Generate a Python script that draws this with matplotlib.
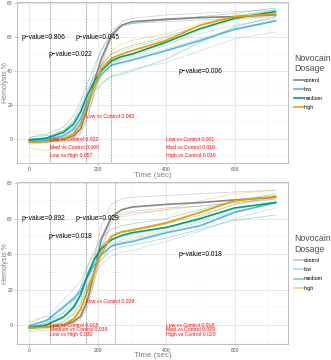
import numpy as np
import matplotlib
matplotlib.use("Agg")
import matplotlib.pyplot as plt
from matplotlib.ticker import MultipleLocator

plt.rcParams['font.family'] = ['Liberation Sans', 'DejaVu Sans']

time = [0, 50, 100, 130, 150, 170, 190, 210, 240, 270, 300, 400, 500, 600, 720]

groups = ['control', 'low', 'medium', 'high']
colors = {'control': '#858585', 'low': '#56B4E9', 'medium': '#009E73', 'high': '#E69F00'}

# ---- top panel ----
top_mean = {
    'control': [-1, -1, 0, 2, 6, 18, 34, 47, 61, 67, 69, 70.5, 71.5, 72, 73],
    'low':     [-1, -0.5, 2, 6, 12, 22, 31, 38, 43.5, 45, 46.5, 52, 58, 64.5, 69.5],
    'medium':  [-0.5, 0.5, 4, 9, 16, 26, 34, 40, 46, 48.5, 50, 57, 65, 71, 75],
    'high':    [-2, -1.5, 0, 3, 9, 20, 31, 41, 47.5, 50, 52, 58, 67, 72, 73.5],
}
top_indiv = {
    'control': [[-2, -1.5, -1, 1, 4, 13, 28, 44, 62, 69, 71, 73, 74, 75, 76],
                [0, 0, 1, 4, 10, 24, 40, 52, 64, 67, 68, 69, 70, 71, 72],
                [-1, -2, -1, 0, 3, 12, 27, 42, 60, 67, 69, 70, 71, 72, 74]],
    'low':     [[1, 2, 5, 10, 17, 28, 37, 43, 47, 49, 50, 56, 62, 67, 71],
                [-3, -2, 0, 3, 8, 16, 25, 32, 37, 39, 41, 45, 52, 59, 63],
                [0, 0, 3, 8, 14, 24, 33, 40, 45, 47, 48, 53, 59, 65, 70]],
    'medium':  [[1, 3, 7, 14, 22, 33, 43, 52, 62, 66, 68, 70, 72, 74, 77],
                [-2, -1, 2, 6, 12, 20, 28, 33, 37, 38, 40, 47, 57, 66, 72],
                [0, 1, 5, 11, 19, 29, 37, 43, 50, 53, 55, 60, 67, 72, 76]],
    'high':    [[4, 2, 1, 4, 9, 19, 31, 42, 52, 56, 58, 62, 68, 72, 74],
                [-5, -7, -3, 1, 7, 18, 28, 37, 44, 47, 49, 55, 64, 70, 73],
                [-2, -1, 1, 5, 12, 23, 34, 44, 50, 52, 54, 59, 67, 73, 75]],
}
top_vlines = [60, 165, 240]
top_pvals = [(40, 60, 'p\u2212value=0.806'), (200, 60, 'p\u2212value=0.045'),
             (120, 50, 'p\u2212value=0.022'), (500, 40, 'p\u2212value=0.006')]
top_red = [(165, 13, 'Low vs Control 0.060'),
           (60, 0, 'Low vs Control 0.022'), (60, -4.8, 'Med vs Control 0.060'),
           (60, -9.5, 'Low vs High 0.057'),
           (400, 0, 'Low vs Control 0.001'), (400, -4.8, 'Med vs Control 0.016'),
           (400, -9.5, 'High vs Control 0.030')]

# ---- bottom panel ----
bot_mean = {
    'control': [-1.5, -1, 0, 2, 5, 14, 30, 48, 61, 65, 66.5, 68, 69, 70.5, 72],
    'low':     [-0.5, 2.5, 10, 15, 19, 27, 34, 39.5, 44.5, 46, 47, 52, 56, 63.5, 69],
    'medium':  [-1.5, 0, 4.5, 10, 17, 28, 37, 43, 48, 50.5, 52, 55, 60, 66, 69],
    'high':    [-1.7, -1.2, 0, 3.5, 9, 19, 30, 40, 50, 52.5, 53.5, 57.5, 63.5, 70, 72.5],
}
bot_indiv = {
    'control': [[-2, -1, 0, 3, 8, 20, 38, 56, 68, 71, 72, 73, 74, 75, 76],
                [-1, 0, 1, 2, 4, 12, 26, 44, 60, 63, 64, 66, 67, 69, 71],
                [0, -1, -1, 1, 3, 10, 24, 42, 58, 62, 63, 65, 67, 69, 72]],
    'low':     [[1, 5, 14, 20, 25, 33, 40, 45, 49, 50, 51, 55, 59, 65, 70],
                [-2, 1, 7, 11, 15, 22, 29, 34, 39, 41, 42, 47, 53, 60, 66],
                [-1, 3, 11, 16, 21, 29, 36, 41, 46, 47, 48, 53, 58, 64, 69]],
    'medium':  [[0, 2, 7, 14, 21, 33, 42, 49, 54, 56, 57, 60, 65, 70, 74],
                [-3, -2, 2, 6, 12, 22, 31, 37, 42, 44, 45, 49, 54, 59, 62],
                [-1, 1, 5, 11, 18, 29, 38, 44, 50, 52, 53, 57, 62, 68, 72]],
    'high':    [[2, 5, 3, 6, 12, 24, 38, 50, 60, 61, 62, 65, 70, 74, 76],
                [-4, -3, -1, 2, 7, 16, 26, 36, 45, 48, 49, 54, 61, 68, 71],
                [-1, 0, 1, 4, 10, 20, 31, 42, 51, 53, 54, 58, 64, 70, 73]],
}
bot_vlines = [60, 165, 250]
bot_pvals = [(40, 60, 'p\u2212value=0.892'), (200, 60, 'p\u2212value=0.029'),
             (120, 50, 'p\u2212value=0.018'), (500, 40, 'p\u2212value=0.018')]
bot_red = [(165, 13, 'Low vs Control 0.029'),
           (60, 0, 'Low vs Control 0.018'), (60, -2.8, 'Medium vs Control 0.039'),
           (60, -5.6, 'Low vs High 0.030'),
           (400, 0, 'Low vs Control 0.018'), (400, -2.8, 'Med vs Control 0.029'),
           (400, -5.6, 'High vs Control 0.020')]


def style_axes(ax, ylim):
    ax.set_xlim(-36, 756)
    ax.set_ylim(*ylim)
    ax.xaxis.set_major_locator(MultipleLocator(200))
    ax.xaxis.set_minor_locator(MultipleLocator(100))
    ax.yaxis.set_major_locator(MultipleLocator(20))
    ax.yaxis.set_minor_locator(MultipleLocator(10))
    ax.grid(which='major', color='#dedede', lw=0.5)
    ax.grid(which='minor', color='#efefef', lw=0.35)
    ax.set_axisbelow(True)
    for s in ax.spines.values():
        s.set_color('#b3b3b3')
        s.set_linewidth(0.6)
    ax.tick_params(which='major', length=2, width=0.4, color='#b3b3b3',
                   labelsize=3.6, labelcolor='#4d4d4d', pad=1)
    ax.tick_params(which='minor', length=0)
    ax.set_ylabel('Hemolysis %', fontsize=5, color='#7f7f7f')
    ax.yaxis.set_label_coords(-0.031, 0.5)
    ax.set_xlabel('Time (sec)', fontsize=5.8, color='#7f7f7f', va='center')


def draw_panel(ax, means, indiv, vlines, pvals, red, ylim, key_alpha):
    style_axes(ax, ylim)
    for g in groups:
        for y in indiv[g]:
            ax.plot(time, y, color=colors[g], lw=0.45, alpha=0.45)
    for g in groups:
        ax.plot(time, means[g], color=colors[g], lw=1.2, label=g)
    for v in vlines:
        ax.axvline(v, color='#555555', lw=0.5, ls=(0, (1, 1.2)))
    for x, y, s in pvals:
        ax.text(x, y, s, ha='center', va='center', fontsize=4.8, color='black')
    for x, y, s in red:
        ax.text(x, y, s, ha='left', va='center', fontsize=3.7, color='#ff0000')
    leg = ax.legend(loc='upper left', bbox_to_anchor=(1.015, 0.69), frameon=False,
                    title='Novocaine\nDosage', fontsize=3.8, title_fontsize=6.3,
                    handlelength=1.6, handletextpad=0.25, labelspacing=0.8,
                    alignment='left', borderaxespad=0)
    leg.get_title().set_color('#4d4d4d')
    for h in leg.legend_handles:
        h.set_alpha(key_alpha)


fig = plt.figure(figsize=(3.31, 3.6), dpi=100)
ax1 = fig.add_axes([0.0514, 0.547, 0.8186, 0.4474])
ax2 = fig.add_axes([0.0514, 0.0444, 0.8186, 0.45])

draw_panel(ax1, top_mean, top_indiv, top_vlines, top_pvals, top_red, (-14.1, 80.6), 1.0)
draw_panel(ax2, bot_mean, bot_indiv, bot_vlines, bot_pvals, bot_red, (-10.7, 80.6), 0.5)

ax1.xaxis.set_label_coords(0.5, -0.076)
ax2.xaxis.set_label_coords(0.5, -0.072)

plt.savefig('out.png', dpi=100)
